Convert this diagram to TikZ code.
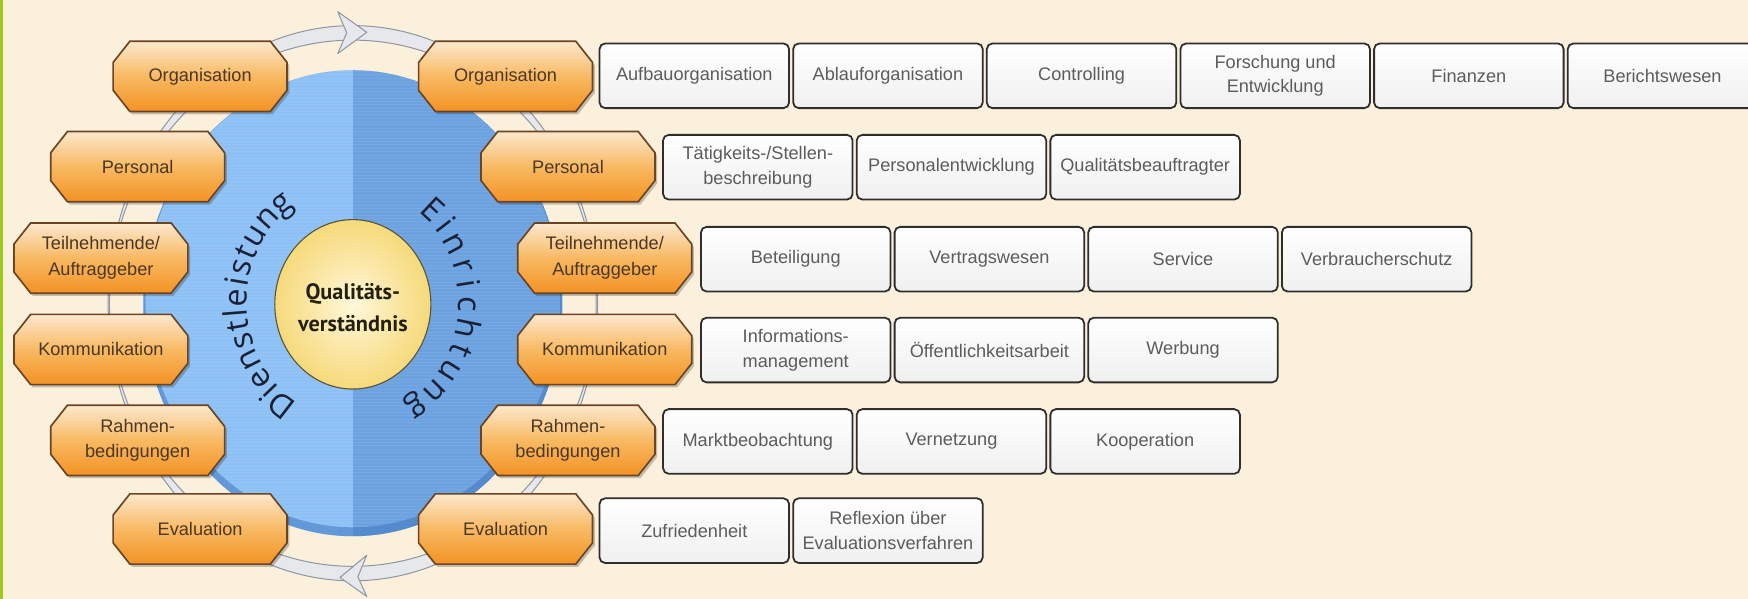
\documentclass[tikz,border=0pt]{standalone}
\usepackage{fontspec}
\setmainfont{Liberation Sans}
\newfontfamily\arcfont{Open Sans}
\newfontfamily\qfont{PT Sans}

\definecolor{bg}{HTML}{FBF0DC}
\definecolor{lgreen}{HTML}{9CCB19}
\definecolor{blueL}{HTML}{8DC1F5}
\definecolor{blueR}{HTML}{6CA2DF}
\definecolor{blueRim}{HTML}{3F78BF}
\definecolor{ringfill}{HTML}{E6E8EC}
\definecolor{ringline}{HTML}{8E96A0}
\definecolor{octtop}{HTML}{FCE8CE}
\definecolor{octmid}{HTML}{F8B962}
\definecolor{octbot}{HTML}{F39224}
\definecolor{octline}{HTML}{6B4423}
\definecolor{octtextc}{HTML}{4A3726}
\definecolor{boxline}{HTML}{2E2E2E}
\definecolor{boxtextc}{HTML}{5C5C5C}
\definecolor{ytop}{HTML}{FFF8DA}
\definecolor{yedge}{HTML}{F6D97A}
\definecolor{yline}{HTML}{5A5438}
\definecolor{darktext}{HTML}{1A2036}
\definecolor{qtext}{HTML}{24200E}

\tikzset{
  octshape/.style={top color=octtop, bottom color=octbot, middle color=octmid, draw=octline, line width=1.5pt},
  octshadow/.style={fill=black, opacity=0.22},
  octlabel/.style={font=\fontsize{16.3}{23}\selectfont, text=octtextc, align=center, inner sep=0pt},
  sbox/.style={draw=boxline, line width=1.6pt, rounded corners=5pt, top color=white, bottom color=black!6,
    minimum width=170pt, minimum height=58pt, anchor=west, inner sep=0pt, align=center,
    font=\fontsize{16.3}{22}\selectfont, text=boxtextc},
  arcletter/.style={font=\arcfont\fontsize{29}{32}\selectfont, text=darktext, anchor=base, inner sep=0pt},
  ringband/.style={fill=ringfill, even odd rule},
  ringedge/.style={draw=ringline, line width=0.9pt},
  arrowhd/.style={fill=ringfill, draw=ringline, line width=0.9pt, line join=round},
}

\newcommand\octa[4]{%
  \path[octshadow, shift={(#2+2,#3+2.5)}] (-63,-31.5) -- (63,-31.5) -- (78,-12.5) -- (78,12.5) -- (63,31.5) -- (-63,31.5) -- (-78,12.5) -- (-78,-12.5) -- cycle;
  \path[octshape, shift={(#2,#3)}] (-63,-31.5) -- (63,-31.5) -- (78,-12.5) -- (78,12.5) -- (63,31.5) -- (-63,31.5) -- (-78,12.5) -- (-78,-12.5) -- cycle;
  \node[octlabel] (#1) at (#2,#3) {#4};}

\begin{document}
\begin{tikzpicture}[x=1pt, y=-1pt]
\useasboundingbox (0,0) rectangle (1568,537);
\fill[bg] (0,0) rectangle (1568,537);
\fill[lgreen] (0,0) rectangle (2.5,537);

\coordinate (C) at (316.5,272);

% ring
\path[ringband] (C) ellipse [x radius=219.5, y radius=249] (C) ellipse [x radius=218.3, y radius=236];
\path[ringedge] (C) ellipse [x radius=219.5, y radius=249];
\path[ringedge] (C) ellipse [x radius=218.3, y radius=236];
% arrowheads on the ring
\path[arrowhd] (329,29) -- (303,10.5) -- (311,29.5) -- (303,48) -- cycle;
\path[arrowhd] (305,518) -- (329,498) -- (321,517.5) -- (329,535) -- cycle;

% blue disc
\begin{scope}
  \clip (C) ellipse [x radius=188, y radius=209];
  \fill[blueL] (120,55) rectangle (316.5,490);
  \fill[blueR] (316.5,55) rectangle (515,490);
  \foreach \yy in {64,67,...,481} \draw[white, opacity=0.07, line width=0.8pt] (120,\yy) -- (515,\yy);
  \fill[blueRim, opacity=0.55, even odd rule] (C) ellipse [x radius=188, y radius=209]
     (316.5,268) ellipse [x radius=186, y radius=205];
\end{scope}

% yellow centre
\shade[inner color=ytop, outer color=yedge] (316.5,273) ellipse [x radius=70, y radius=76];
\draw[yline, line width=1pt] (316.5,273) ellipse [x radius=70, y radius=76];
\node[font=\qfont\bfseries\fontsize{20}{29}\selectfont, align=center, text=qtext, inner sep=0pt] (q) at (316.5,276) {Qualitäts-\\verständnis};

% curved words
\foreach \ch/\ang [count=\i] in {D/127.6, i/136.14, e/143.31, n/153.34, s/162.69, t/169.93, l/175.42, e/182.58, i/189.74, s/196.22, t/203.47, u/211.82, n/222.28, g/232.2}
  \node[arcletter, rotate={-\ang-90}] (dl\i) at ({316.5+95*cos(\ang)},{272+105*sin(\ang)}) {\ch};
\foreach \ch/\ang [count=\i] in {E/-47, i/-37.58, n/-27.81, r/-17.06, i/-8.63, c/0.27, h/11.49, t/21.87, u/32.26, n/44.35, g/56.0}
  \node[arcletter, rotate={-\ang-90}] (ei\i) at ({316.5+95*cos(\ang)},{272+105*sin(\ang)}) {\ch};

% octagons left
\octa{lo1}{179.5}{68.5}{Organisation}
\octa{lo2}{123.5}{149.5}{Personal}
\octa{lo3}{90.5}{231.5}{Teilnehmende/\\Auftraggeber}
\octa{lo4}{90.5}{313.5}{Kommunikation}
\octa{lo5}{123.5}{395}{Rahmen-\\bedingungen}
\octa{lo6}{179.5}{474.5}{Evaluation}
% octagons right
\octa{ro1}{453.5}{68.5}{Organisation}
\octa{ro2}{509.5}{149.5}{Personal}
\octa{ro3}{542.5}{231.5}{Teilnehmende/\\Auftraggeber}
\octa{ro4}{542.5}{313.5}{Kommunikation}
\octa{ro5}{509.5}{395}{Rahmen-\\bedingungen}
\octa{ro6}{453.5}{474.5}{Evaluation}

% boxes
\node[sbox] (a1) at (537,68) {Aufbauorganisation};
\node[sbox] (a2) at (710.7,68) {Ablauforganisation};
\node[sbox] (a3) at (884.4,68) {Controlling};
\node[sbox] (a4) at (1058.1,68) {Forschung und\\Entwicklung};
\node[sbox] (a5) at (1231.8,68) {Finanzen};
\node[sbox] (a6) at (1405.5,68) {Berichtswesen};

\node[sbox] (b1) at (594,150) {Tätigkeits-/Stellen-\\beschreibung};
\node[sbox] (b2) at (767.7,150) {Personalentwicklung};
\node[sbox] (b3) at (941.4,150) {Qualitätsbeauftragter};

\node[sbox] (c1) at (628,232.5) {Beteiligung};
\node[sbox] (c2) at (801.7,232.5) {Vertragswesen};
\node[sbox] (c3) at (975.4,232.5) {Service};
\node[sbox] (c4) at (1149.1,232.5) {Verbraucherschutz};

\node[sbox] (d1) at (628,314) {Informations-\\management};
\node[sbox] (d2) at (801.7,314) {Öffentlichkeitsarbeit};
\node[sbox] (d3) at (975.4,314) {Werbung};

\node[sbox] (e1) at (594,396) {Marktbeobachtung};
\node[sbox] (e2) at (767.7,396) {Vernetzung};
\node[sbox] (e3) at (941.4,396) {Kooperation};

\node[sbox] (f1) at (537,476) {Zufriedenheit};
\node[sbox] (f2) at (710.7,476) {Reflexion über\\Evaluationsverfahren};
\end{tikzpicture}
\end{document}
